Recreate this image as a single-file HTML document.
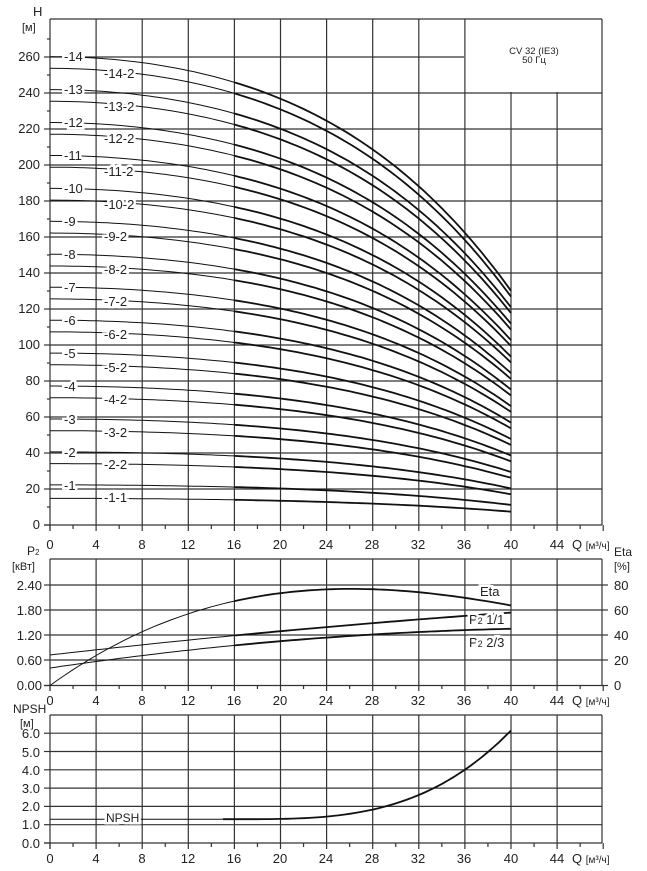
<!DOCTYPE html>
<html><head><meta charset="utf-8"><style>
html,body{margin:0;padding:0;background:#fff}
svg{display:block;font-family:"Liberation Sans","Noto Sans CJK SC",sans-serif}
text{fill:#222}
.lab{stroke:#fff;stroke-width:5px;paint-order:stroke}
</style></head><body>
<svg id="s" width="647" height="871" viewBox="0 0 647 871" xmlns="http://www.w3.org/2000/svg" font-size="13">
<g id="grid" stroke="#333" stroke-width="1.2" fill="none"></g>
<g id="curves" fill="none" stroke="#111"></g>
<g id="labels">
<text x="33" y="16">H</text><text x="22" y="31" font-size="11">[м]</text>
<g text-anchor="end">
<text x="40" y="61">260</text><text x="40" y="97">240</text><text x="40" y="133">220</text><text x="40" y="169">200</text><text x="40" y="205">180</text><text x="40" y="241">160</text><text x="40" y="277">140</text><text x="40" y="313">120</text><text x="40" y="349">100</text><text x="40" y="385">80</text><text x="40" y="421">60</text><text x="40" y="457">40</text><text x="40" y="493">20</text><text x="40" y="529">0</text>
</g>
<g text-anchor="middle">
<text x="50" y="549">0</text><text x="96" y="549">4</text><text x="142" y="549">8</text><text x="188" y="549">12</text><text x="234" y="549">16</text><text x="280" y="549">20</text><text x="326" y="549">24</text><text x="372" y="549">28</text><text x="418" y="549">32</text><text x="464" y="549">36</text><text x="511" y="549">40</text><text x="557" y="549">44</text>
<text x="50" y="705">0</text><text x="96" y="705">4</text><text x="142" y="705">8</text><text x="188" y="705">12</text><text x="234" y="705">16</text><text x="280" y="705">20</text><text x="326" y="705">24</text><text x="372" y="705">28</text><text x="418" y="705">32</text><text x="464" y="705">36</text><text x="511" y="705">40</text><text x="557" y="705">44</text>
<text x="50" y="863">0</text><text x="96" y="863">4</text><text x="142" y="863">8</text><text x="188" y="863">12</text><text x="234" y="863">16</text><text x="280" y="863">20</text><text x="326" y="863">24</text><text x="372" y="863">28</text><text x="418" y="863">32</text><text x="464" y="863">36</text><text x="511" y="863">40</text><text x="557" y="863">44</text>
</g>
<text x="572" y="549">Q <tspan font-size="10">[м³/ч]</tspan></text>
<text x="572" y="705">Q <tspan font-size="10">[м³/ч]</tspan></text>
<text x="572" y="863">Q <tspan font-size="10">[м³/ч]</tspan></text>
<text x="534" y="54" font-size="9.5" text-anchor="middle">CV 32 (IE3)</text>
<text x="534" y="63" font-size="9.5" text-anchor="middle">50 Гц</text>
<text x="27" y="555" font-size="12">P<tspan font-size="8">2</tspan></text>
<text x="12" y="570" font-size="11">[кВт]</text>
<g text-anchor="end">
<text x="42" y="590">2.40</text><text x="42" y="615">1.80</text><text x="42" y="640">1.20</text><text x="42" y="665">0.60</text><text x="42" y="690">0.00</text>
<text x="40" y="738">6.0</text><text x="40" y="757">5.0</text><text x="40" y="775">4.0</text><text x="40" y="793">3.0</text><text x="40" y="811">2.0</text><text x="40" y="829">1.0</text><text x="40" y="848">0.0</text>
</g>
<text x="614" y="556" font-size="12">Eta</text><text x="614" y="570" font-size="11">[%]</text>
<text x="614" y="590">80</text><text x="614" y="615">60</text><text x="614" y="640">40</text><text x="614" y="665">20</text><text x="614" y="690">0</text>
<text x="13" y="713" font-size="12">NPSH</text><text x="20" y="727" font-size="11">[м]</text>
<text x="480" y="596" class="lab">Eta</text>
<text x="469" y="624" class="lab">P<tspan font-size="9">2</tspan> 1/1</text>
<text x="469" y="647" class="lab">P<tspan font-size="9">2</tspan> 2/3</text>
<text x="106" y="822" class="lab" font-size="12">NPSH</text>
<g font-size="13">
<text x="64" y="61" class="lab">-14</text><text x="104" y="78" class="lab">-14-2</text>
<text x="64" y="94" class="lab">-13</text><text x="104" y="111" class="lab">-13-2</text>
<text x="64" y="127" class="lab">-12</text><text x="104" y="143" class="lab">-12-2</text>
<text x="64" y="160" class="lab">-11</text><text x="104" y="176" class="lab">-11-2</text>
<text x="64" y="193" class="lab">-10</text><text x="104" y="209" class="lab">-10-2</text>
<text x="64" y="226" class="lab">-9</text><text x="104" y="241" class="lab">-9-2</text>
<text x="64" y="259" class="lab">-8</text><text x="104" y="274" class="lab">-8-2</text>
<text x="64" y="292" class="lab">-7</text><text x="104" y="306" class="lab">-7-2</text>
<text x="64" y="325" class="lab">-6</text><text x="104" y="339" class="lab">-6-2</text>
<text x="64" y="358" class="lab">-5</text><text x="104" y="372" class="lab">-5-2</text>
<text x="64" y="391" class="lab">-4</text><text x="104" y="404" class="lab">-4-2</text>
<text x="64" y="424" class="lab">-3</text><text x="104" y="437" class="lab">-3-2</text>
<text x="64" y="457" class="lab">-2</text><text x="104" y="469" class="lab">-2-2</text>
<text x="64" y="490" class="lab">-1</text><text x="104" y="502" class="lab">-1-1</text>
</g>
</g>
</svg>
<script>
const NS="http://www.w3.org/2000/svg";
const G=document.getElementById('grid'),C=document.getElementById('curves'),L=document.getElementById('labels');
function ln(x1,y1,x2,y2){const e=document.createElementNS(NS,'line');e.setAttribute('x1',x1);e.setAttribute('y1',y1);e.setAttribute('x2',x2);e.setAttribute('y2',y2);G.appendChild(e);}
function pl(pts,sw){const e=document.createElementNS(NS,'polyline');e.setAttribute('points',pts.map(a=>a[0].toFixed(1)+','+a[1].toFixed(1)).join(' '));e.setAttribute('stroke-width',sw);C.appendChild(e);}
const X=q=>50+11.525*q;
for(let h=20;h<=240;h+=20){const y=525-1.8*h;ln(50,y,602,y);}
ln(50,57,464,57);ln(50,19,602,19);ln(44,525,602,525);
for(let q=4;q<=36;q+=4)ln(X(q),19,X(q),525);
ln(X(40),92,X(40),525);ln(X(44),92,X(44),525);ln(602,19,602,525);ln(50,19,50,531);
for(let h=0;h<=260;h+=20)ln(44,525-1.8*h,50,525-1.8*h);
for(let h=10;h<=270;h+=20)ln(47,525-1.8*h,50,525-1.8*h);
for(let q=0;q<=48;q+=2)ln(X(q),525,X(q),q%4?529:531);
for(const y of [585,610,635,660])ln(50,y,602,y);
ln(50,559,602,559);ln(44,685.5,602,685.5);
for(let q=4;q<=44;q+=4)ln(X(q),559,X(q),685.5);
ln(50,559,50,691);ln(602,559,602,685.5);
for(const y of [585,610,635,660,685.5]){ln(44,y,50,y);ln(602,y,608,y);}
for(let q=0;q<=48;q+=2)ln(X(q),685.5,X(q),q%4?689:691);
const Y3=v=>843-v*18.3;
for(let v=1;v<=6;v++)ln(50,Y3(v),602,Y3(v));
ln(50,715,602,715);ln(44,843,602,843);
for(let q=4;q<=44;q+=4)ln(X(q),715,X(q),843);
ln(50,715,50,849);ln(602,715,602,843);
for(let v=0;v<=6;v++)ln(44,Y3(v),50,Y3(v));
for(let q=0;q<=48;q+=2)ln(X(q),843,X(q),q%4?847:849);
const f=q=>1-1.958e-4*q*q-7.29e-8*q*q*q*q;
function draw(fn,toY,q0,q1,sw){const p=[];for(let q=q0;q<=q1+1e-9;q+=0.5)p.push([X(q),toY(fn(q))]);pl(p,sw);}
for(let n=1;n<=14;n++){
 for(const H0 of [18.3*n+4,18.3*n-2.5-(n==1?1:0)]){
  const fn=q=>H0*f(q);const ty=h=>525-1.8*h;
  draw(fn,ty,0,16,1);draw(fn,ty,16,40,1.8);
 }
}
const etaF=q=>6.673*q-0.1711*q*q+0.001107*q*q*q;
const EY=v=>685.5-v*1.25;
draw(etaF,EY,0,16,1);draw(etaF,EY,16,40,1.8);
const p11=q=>655-1.32*q+0.0065*q*q;
draw(p11,y=>y,0,16,1);draw(p11,y=>y,16,40,1.8);
const p23=q=>668-1.7*q+0.018*q*q;
draw(p23,y=>y,0,16,1);draw(p23,y=>y,16,40,1.8);
const np=q=>1.3+4.85*Math.pow(Math.max(q-16,0)/24,3.2);
draw(np,Y3,0,15,1);draw(np,Y3,15,40,1.8);
document.getElementById('s').appendChild(L);
</script>
</body></html>
